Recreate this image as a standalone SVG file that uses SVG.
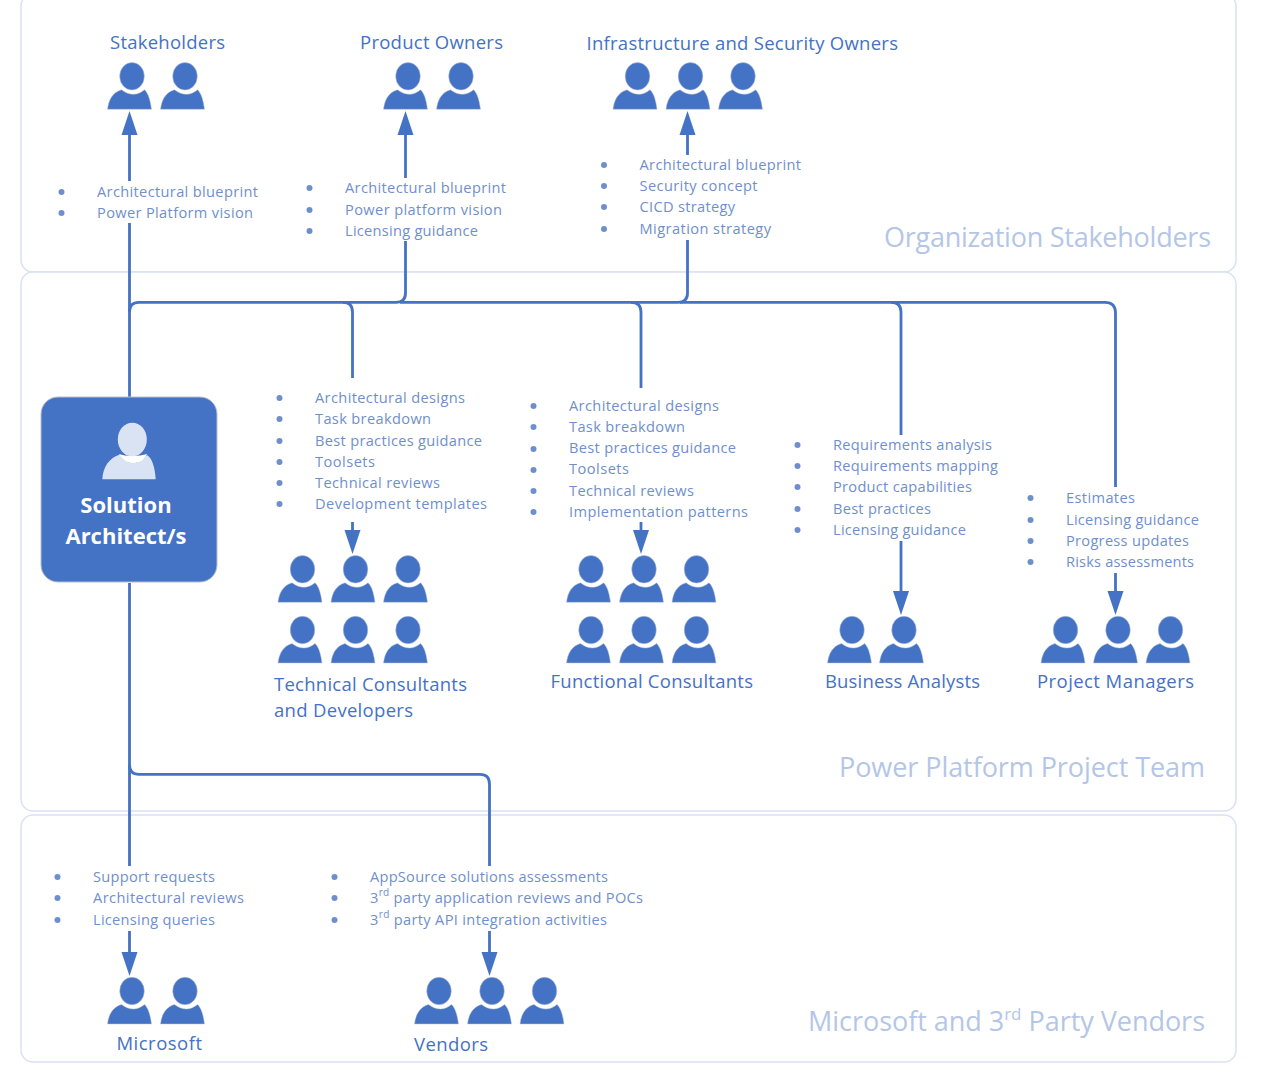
<svg xmlns="http://www.w3.org/2000/svg" xmlns:xlink="http://www.w3.org/1999/xlink" width="1261" height="1081" viewBox="0 0 1261 1081">
<style>
text{font-family:"Open Sans","Noto Sans","Liberation Sans",sans-serif}
.panel{fill:#fff;stroke:#d9e2f3;stroke-width:1.5}
.conn{fill:none;stroke:#4472c4;stroke-width:2.8}
.head{fill:#4472c4}
.person{fill:#4472c4;stroke:#bcc4d2;stroke-width:.5}
.t{font-size:18.5px;fill:#4472c4}
.l{font-size:14.6px;fill:#6f8fcc;transform:translateY(-.5px)}
.b{fill:#6f8fcc}
.w{font-size:27px;fill:#b4c6e7}
.sa{font-size:22px;font-weight:700;fill:#fff;text-anchor:middle}
.sup{font-size:10px;baseline-shift:super}
.wsup{font-size:17px;baseline-shift:super}
</style>
<defs>
<g id="p" class="person"><ellipse cx="2.500" cy="-33" rx="12.300" ry="13.800"/><path d="M-22 0C-21-9-17-17-8-19.500C-4-16.500 0-15 4-15C8-15 12-17 15-19.500C19-16 21-8 22 0Z"/></g>
<path id="ah" class="head" d="M0 0L-8 24H8Z"/>
<path id="ad" class="head" d="M0 0L-8-24H8Z"/>
<circle id="d" class="b" cx="0" cy="0" r="3"/>
</defs>
<g id="panels">
<rect class="panel" x="21" y="-6" width="1215" height="278" rx="12"/>
<rect class="panel" x="21" y="272" width="1215" height="539" rx="12"/>
<rect class="panel" x="21" y="815" width="1215" height="247" rx="12"/>
<text class="w" x="884" y="247" textLength="327">Organization Stakeholders</text>
<text class="w" x="839" y="777" textLength="366">Power Platform Project Team</text>
<text class="w" x="808" y="1031" textLength="397">Microsoft and 3<tspan class="wsup">rd</tspan> Party Vendors</text>
</g>
<g id="connectors">
<path class="conn" d="M129.500 397V223M129.500 181V130"/>
<path class="conn" d="M405.500 241V293Q405.500 302.300 396 302.300H139Q129.500 302.300 129.500 312"/>
<path class="conn" d="M405.500 178V130"/>
<path class="conn" d="M687.500 240V293Q687.500 302.300 678 302.300H400"/>
<path class="conn" d="M687.500 155V130"/>
<path class="conn" d="M343 302.300Q352.500 302.300 352.500 312V378M352.500 522V535"/>
<path class="conn" d="M631 302.300Q641 302.300 641 312V388M641 522V535"/>
<path class="conn" d="M891 302.300Q901 302.300 901 312V435M901 541V596"/>
<path class="conn" d="M680 302.300H1105Q1115.500 302.300 1115.500 313V487M1115.500 573V597"/>
<path class="conn" d="M129.500 583V866M129.500 931V957"/>
<path class="conn" d="M129.500 765Q129.500 774.300 139 774.300H480Q489.500 774.300 489.500 784V866M489.500 931V957"/>
<use href="#ah" x="129.500" y="111"/>
<use href="#ah" x="405.500" y="111"/>
<use href="#ah" x="687.500" y="111"/>
<use href="#ad" x="352.500" y="554"/>
<use href="#ad" x="641" y="554"/>
<use href="#ad" x="901" y="615"/>
<use href="#ad" x="1115.500" y="615"/>
<use href="#ad" x="129.500" y="976"/>
<use href="#ad" x="489.500" y="976"/>
</g>
<g id="solution-architect">
<rect x="41" y="397" width="176" height="185" rx="17" fill="#4472c4" stroke="#b8c0cc"/>
<path d="M102.300 479.300C103 467 109 458 120 454.500C124 460 128 463 133 463C138 463 143 461 147 455C152 458 155 467 155.700 479.300Z" fill="#dae3f3"/>
<path d="M119 454C124 461 128 463 133 463C139 463 144 461 147 454C143 455 138 456 132 456C127 456 122 455 119 454Z" fill="#fff"/>
<ellipse cx="132.300" cy="439.500" rx="14.500" ry="16.800" fill="#dae3f3"/>
<text class="sa" x="126" y="513">Solution</text>
<text class="sa" x="126" y="544">Architect/s</text>
</g>
<g id="stakeholders">
<text class="t" x="110" y="49" textLength="115">Stakeholders</text>
<use href="#p" x="129.500" y="109.300"/><use href="#p" x="182.500" y="109.300"/>
<use href="#d" x="61.500" y="192"/><use href="#d" x="61.500" y="213"/>
<text class="l" x="97" y="197" textLength="161">Architectural blueprint</text>
<text class="l" x="97" y="218" textLength="156">Power Platform vision</text>
</g>
<g id="product-owners">
<text class="t" x="360" y="49" textLength="143">Product Owners</text>
<use href="#p" x="405.500" y="109.300"/><use href="#p" x="458.500" y="109.300"/>
<use href="#d" x="309.500" y="188"/><use href="#d" x="309.500" y="210"/><use href="#d" x="309.500" y="231"/>
<text class="l" x="345" y="193" textLength="161">Architectural blueprint</text>
<text class="l" x="345" y="215" textLength="157">Power platform vision</text>
<text class="l" x="345" y="236" textLength="133">Licensing guidance</text>
</g>
<g id="infrastructure-security-owners">
<text class="t" x="586.500" y="50" textLength="311.500">Infrastructure and Security Owners</text>
<use href="#p" x="635" y="109.300"/><use href="#p" x="688" y="109.300"/><use href="#p" x="740.500" y="109.300"/>
<use href="#d" x="604" y="165"/><use href="#d" x="604" y="186"/><use href="#d" x="604" y="207"/><use href="#d" x="604" y="229"/>
<text class="l" x="639.500" y="170" textLength="161.500">Architectural blueprint</text>
<text class="l" x="639.500" y="191" textLength="118">Security concept</text>
<text class="l" x="639.500" y="212" textLength="95.500">CICD strategy</text>
<text class="l" x="639.500" y="234" textLength="131.500">Migration strategy</text>
</g>
<g id="technical-consultants">
<use href="#d" x="279.500" y="398"/><use href="#d" x="279.500" y="419"/><use href="#d" x="279.500" y="441"/><use href="#d" x="279.500" y="462"/><use href="#d" x="279.500" y="483"/><use href="#d" x="279.500" y="504"/>
<text class="l" x="315" y="403" textLength="150">Architectural designs</text>
<text class="l" x="315" y="424" textLength="116">Task breakdown</text>
<text class="l" x="315" y="446" textLength="167">Best practices guidance</text>
<text class="l" x="315" y="467" textLength="60">Toolsets</text>
<text class="l" x="315" y="488" textLength="125">Technical reviews</text>
<text class="l" x="315" y="509" textLength="172">Development templates</text>
<use href="#p" x="300" y="602.300"/><use href="#p" x="353" y="602.300"/><use href="#p" x="405.500" y="602.300"/>
<use href="#p" x="300" y="663"/><use href="#p" x="353" y="663"/><use href="#p" x="405.500" y="663"/>
<text class="t" x="274" y="691" textLength="193">Technical Consultants</text>
<text class="t" x="274" y="717" textLength="139">and Developers</text>
</g>
<g id="functional-consultants">
<use href="#d" x="533.500" y="406"/><use href="#d" x="533.500" y="427"/><use href="#d" x="533.500" y="449"/><use href="#d" x="533.500" y="470"/><use href="#d" x="533.500" y="491"/><use href="#d" x="533.500" y="512"/>
<text class="l" x="569" y="411" textLength="150">Architectural designs</text>
<text class="l" x="569" y="432" textLength="116">Task breakdown</text>
<text class="l" x="569" y="453" textLength="167">Best practices guidance</text>
<text class="l" x="569" y="474" textLength="60">Toolsets</text>
<text class="l" x="569" y="496" textLength="125">Technical reviews</text>
<text class="l" x="569" y="517" textLength="179">Implementation patterns</text>
<use href="#p" x="588.500" y="602.300"/><use href="#p" x="641.500" y="602.300"/><use href="#p" x="694" y="602.300"/>
<use href="#p" x="588.500" y="663"/><use href="#p" x="641.500" y="663"/><use href="#p" x="694" y="663"/>
<text class="t" x="550.500" y="688" textLength="202.500">Functional Consultants</text>
</g>
<g id="business-analysts">
<use href="#d" x="797.500" y="445"/><use href="#d" x="797.500" y="466"/><use href="#d" x="797.500" y="487"/><use href="#d" x="797.500" y="509"/><use href="#d" x="797.500" y="530"/>
<text class="l" x="833" y="450" textLength="159">Requirements analysis</text>
<text class="l" x="833" y="471" textLength="165">Requirements mapping</text>
<text class="l" x="833" y="492" textLength="139">Product capabilities</text>
<text class="l" x="833" y="514" textLength="98">Best practices</text>
<text class="l" x="833" y="535" textLength="133">Licensing guidance</text>
<use href="#p" x="849.500" y="663"/><use href="#p" x="901.500" y="663"/>
<text class="t" x="825" y="688" textLength="155">Business Analysts</text>
</g>
<g id="project-managers">
<use href="#d" x="1030.500" y="498"/><use href="#d" x="1030.500" y="520"/><use href="#d" x="1030.500" y="541"/><use href="#d" x="1030.500" y="562"/>
<text class="l" x="1066" y="503" textLength="69">Estimates</text>
<text class="l" x="1066" y="525" textLength="133">Licensing guidance</text>
<text class="l" x="1066" y="546" textLength="123">Progress updates</text>
<text class="l" x="1066" y="567" textLength="128">Risks assessments</text>
<use href="#p" x="1063" y="663"/><use href="#p" x="1115.500" y="663"/><use href="#p" x="1168" y="663"/>
<text class="t" x="1037" y="688" textLength="157">Project Managers</text>
</g>
<g id="microsoft">
<use href="#d" x="57.500" y="877"/><use href="#d" x="57.500" y="898"/><use href="#d" x="57.500" y="920"/>
<text class="l" x="93" y="882" textLength="122">Support requests</text>
<text class="l" x="93" y="903" textLength="151">Architectural reviews</text>
<text class="l" x="93" y="925" textLength="122">Licensing queries</text>
<use href="#p" x="129.500" y="1024"/><use href="#p" x="182.500" y="1024"/>
<text class="t" x="116.500" y="1050" textLength="85.500">Microsoft</text>
</g>
<g id="vendors">
<use href="#d" x="334.500" y="877"/><use href="#d" x="334.500" y="898"/><use href="#d" x="334.500" y="920"/>
<text class="l" x="370" y="882" textLength="238">AppSource solutions assessments</text>
<text class="l" x="370" y="903" textLength="273">3<tspan class="sup">rd</tspan> party application reviews and POCs</text>
<text class="l" x="370" y="925" textLength="237">3<tspan class="sup">rd</tspan> party API integration activities</text>
<use href="#p" x="436.500" y="1024"/><use href="#p" x="489.500" y="1024"/><use href="#p" x="542" y="1024"/>
<text class="t" x="414" y="1051" textLength="74">Vendors</text>
</g>
</svg>
